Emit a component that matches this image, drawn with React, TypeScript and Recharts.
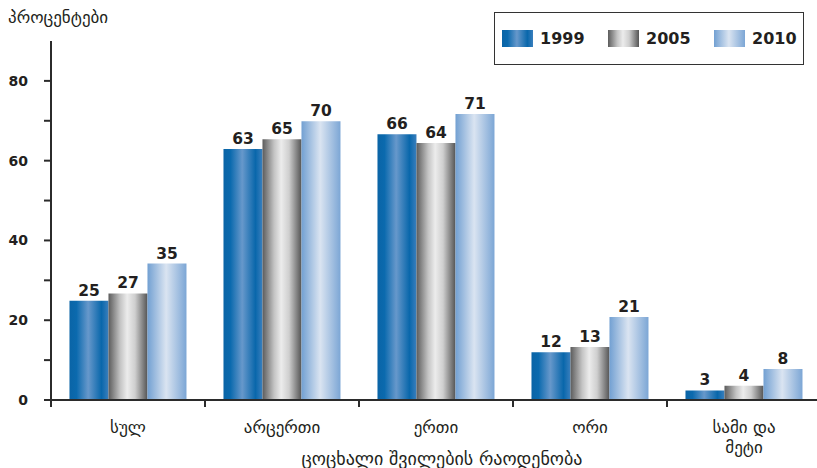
import React from 'react';
import { BarChart, Bar, XAxis, YAxis, LabelList, Label } from 'recharts';

// bar heights, printed labels as shown above the bars
const categories = ['სულ', 'არცერთი', 'ერთი', 'ორი', 'სამი და მეტი'];
const years = ['1999', '2005', '2010'];
const values1999 = [24.9, 62.9, 66.6, 12.0, 2.4];
const values2005 = [26.7, 65.4, 64.4, 13.3, 3.6];
const values2010 = [34.2, 69.9, 71.7, 20.8, 7.8];
const labels1999 = ['25', '63', '66', '12', '3'];
const labels2005 = ['27', '65', '64', '13', '4'];
const labels2010 = ['35', '70', '71', '21', '8'];
const yTicks = [0, 10, 20, 30, 40, 50, 60, 70, 80];

const data = categories.map((name, i) => ({
  name,
  v1999: values1999[i],
  v2005: values2005[i],
  v2010: values2010[i],
  l1999: labels1999[i],
  l2005: labels2005[i],
  l2010: labels2010[i],
}));

const CHART_W = 825;
const CHART_H = 468;
const MARGIN = { top: 41, right: 4, bottom: 0, left: 0 };
const Y_AXIS_W = 51;
const BAND = (CHART_W - MARGIN.left - MARGIN.right - Y_AXIS_W) / categories.length;

const FONT = '"DejaVu Sans", Verdana, sans-serif';
const TEXT = '#231f20';
const AXIS = '#2b2b2b';

const gradients = {
  g1999: [
    ['0%', '#0a64a6'],
    ['18%', '#0b6aae'],
    ['48%', '#6798cb'],
    ['82%', '#0967ab'],
    ['100%', '#3a7fbd'],
  ],
  g2005: [
    ['0%', '#5c5c5c'],
    ['30%', '#c4c4c4'],
    ['48%', '#ececec'],
    ['68%', '#cfcfcf'],
    ['100%', '#555555'],
  ],
  g2010: [
    ['0%', '#72a0d2'],
    ['48%', '#dae4f1'],
    ['100%', '#7ca6d5'],
  ],
};

const cssGradient = (stops: string[][]) =>
  `linear-gradient(to right, ${stops.map(([o, c]) => `${c} ${o}`).join(', ')})`;

const CategoryTick = (props: any) => {
  const { x, y, payload, index } = props;
  const words = String(payload.value).split(' ');
  const lines = words.length > 1 ? [words.slice(0, -1).join(' '), words[words.length - 1]] : words;
  return (
    <g>
      <line x1={x - BAND / 2} x2={x - BAND / 2} y1={y} y2={y + 7} stroke={AXIS} strokeWidth={2} />
      {index === categories.length - 1 && (
        <line x1={x + BAND / 2} x2={x + BAND / 2} y1={y} y2={y + 7} stroke={AXIS} strokeWidth={2} />
      )}
      {lines.map((t, i) => (
        <text
          key={i}
          x={x}
          y={y + 33 + i * 20}
          textAnchor="middle"
          fontFamily={FONT}
          fontSize={17}
          fill={TEXT}
        >
          {t}
        </text>
      ))}
    </g>
  );
};

const YTick = (props: any) => {
  const { x, y, payload } = props;
  if (payload.value % 20 !== 0) return null;
  return (
    <text x={x} y={y + 5} textAnchor="end" fontFamily={FONT} fontWeight="bold" fontSize={14} fill={TEXT}>
      {payload.value}
    </text>
  );
};

const barLabel = { position: 'top' as const, offset: 5, fill: TEXT, fontFamily: FONT, fontWeight: 'bold', fontSize: 15.5 };

export default function App() {
  return (
    <div style={{ position: 'absolute', left: 0, top: 0, width: 817, height: 468, overflow: 'hidden', background: '#fff' }}>
      <BarChart width={CHART_W} height={CHART_H} data={data} margin={MARGIN} barCategoryGap="12%" barGap={0}>
        <defs>
          {Object.entries(gradients).map(([id, stops]) => (
            <linearGradient key={id} id={id} x1="0" y1="0" x2="1" y2="0">
              {stops.map(([o, c]) => (
                <stop key={o} offset={o} stopColor={c} />
              ))}
            </linearGradient>
          ))}
        </defs>
        <XAxis
          dataKey="name"
          height={68}
          interval={0}
          tickLine={false}
          tickSize={0}
          tickMargin={0}
          axisLine={{ stroke: AXIS, strokeWidth: 2 }}
          tick={<CategoryTick />}
        >
          <Label
            value="ცოცხალი შვილების რაოდენობა"
            position="insideBottom"
            offset={3}
            dx={6}
            style={{ fontFamily: FONT, fontSize: 18, fill: TEXT }}
          />
        </XAxis>
        <YAxis
          width={Y_AXIS_W}
          domain={[0, 90]}
          ticks={yTicks}
          interval={0}
          tickSize={7}
          tickMargin={16}
          tickLine={{ stroke: AXIS, strokeWidth: 2 }}
          axisLine={{ stroke: AXIS, strokeWidth: 2 }}
          tick={<YTick />}
        >
          <Label
            content={() => (
              <text x={8} y={23} fontFamily={FONT} fontSize={17} fill={TEXT}>
                პროცენტები
              </text>
            )}
          />
        </YAxis>
        <Bar dataKey="v1999" fill="url(#g1999)" isAnimationActive={false}>
          <LabelList dataKey="l1999" {...barLabel} />
        </Bar>
        <Bar dataKey="v2005" fill="url(#g2005)" isAnimationActive={false}>
          <LabelList dataKey="l2005" {...barLabel} />
        </Bar>
        <Bar dataKey="v2010" fill="url(#g2010)" isAnimationActive={false}>
          <LabelList dataKey="l2010" {...barLabel} />
        </Bar>
      </BarChart>
      <div
        style={{
          position: 'absolute',
          left: 494,
          top: 12,
          width: 310,
          height: 53,
          border: '1.5px solid #333',
          display: 'flex',
          alignItems: 'center',
          paddingLeft: 7,
          boxSizing: 'border-box',
          fontFamily: FONT,
          fontWeight: 'bold',
          fontSize: 16,
          color: TEXT,
        }}
      >
        {years.map((yr) => (
          <div key={yr} style={{ display: 'flex', alignItems: 'center', width: 106, flexShrink: 0 }}>
            <span
              style={{
                display: 'inline-block',
                width: 31,
                height: 17,
                marginRight: 7,
                flexShrink: 0,
                background: cssGradient(gradients[('g' + yr) as keyof typeof gradients]),
              }}
            />
            <span>{yr}</span>
          </div>
        ))}
      </div>
    </div>
  );
}
